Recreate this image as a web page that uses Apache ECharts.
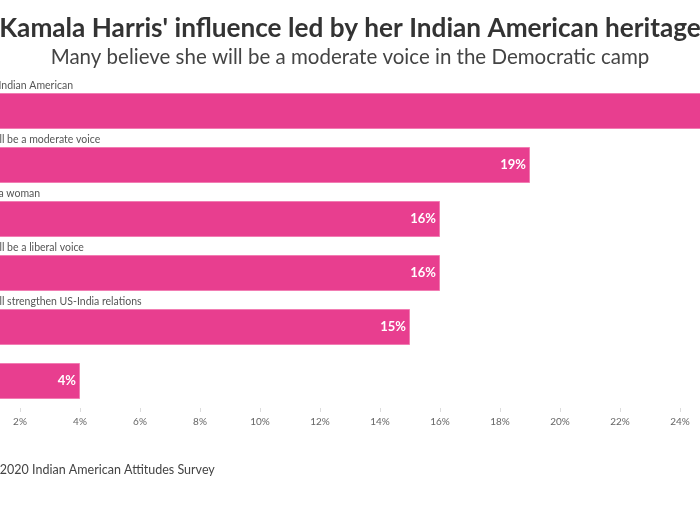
<!DOCTYPE html>
<html>
<head>
<meta charset="UTF-8">
<title></title>
<script src="https://cdn.jsdelivr.net/npm/echarts@6/dist/echarts.min.js"></script>
<style>
  html, body { margin: 0; padding: 0; overflow: hidden; width: 700px; height: 525px; background: #fff; }
  #chart { position: absolute; left: -114px; top: 0; width: 928px; height: 525px; }
</style>
</head>
<body>
<div id="chart"></div>
<script type="text/javascript">
// 数据
var categories = ['She is Indian American', 'She will be a moderate voice', 'She is a woman',
  'She will be a liberal voice', 'She will strengthen US-India relations', 'Other'];
var values = [27, 19, 16, 16, 15, 4];
var ticks = [0, 2, 4, 6, 8, 10, 12, 14, 16, 18, 20, 22, 24, 26, 28];

var chart = echarts.init(document.getElementById('chart'));
var font = 'Lato, "Open Sans", sans-serif';
var option = {
  animation: false,
  title: {
    text: "Kamala Harris' influence led by her Indian American heritage",
    subtext: 'Many believe she will be a moderate voice in the Democratic camp',
    left: 'center',
    top: 11,
    itemGap: 5,
    textStyle: { fontFamily: font, fontSize: 26.2, fontWeight: 'bold', color: '#333' },
    subtextStyle: { fontFamily: font, fontSize: 20.5, color: '#444' }
  },
  grid: { left: 74, right: 14, top: 84, bottom: 117 },
  xAxis: {
    type: 'value',
    min: ticks[0],
    max: ticks[ticks.length - 1],
    interval: 2,
    axisLine: { show: false },
    axisTick: { show: true, length: 4, lineStyle: { color: '#ddd' } },
    splitLine: { show: false },
    axisLabel: { formatter: '{value}%', fontFamily: font, fontSize: 10, color: '#666', margin: 9 }
  },
  yAxis: {
    type: 'category',
    inverse: true,
    data: categories,
    axisLine: { show: true, onZero: false, lineStyle: { color: '#eee' } },
    axisTick: { show: false },
    axisLabel: {
      inside: true,
      align: 'left',
      verticalAlign: 'bottom',
      padding: [0, 0, 20, 9],
      margin: 0,
      fontFamily: font,
      fontSize: 10.5,
      color: '#555'
    }
  },
  series: [{
    type: 'bar',
    data: values,
    barWidth: 36,
    itemStyle: { color: '#e83e8f', borderColor: '#f27db3', borderWidth: 1 },
    label: {
      show: true,
      position: 'insideRight',
      formatter: '{c}%',
      color: '#fff',
      fontFamily: font,
      fontWeight: 'bold',
      fontSize: 13,
      distance: 4
    }
  }],
  graphic: [{
    type: 'text',
    left: 70,
    top: 463,
    style: { text: 'Source: 2020 Indian American Attitudes Survey', fontFamily: font, fontSize: 12.5, fill: '#444' }
  }]
};
chart.setOption(option);
</script>
</body>
</html>
